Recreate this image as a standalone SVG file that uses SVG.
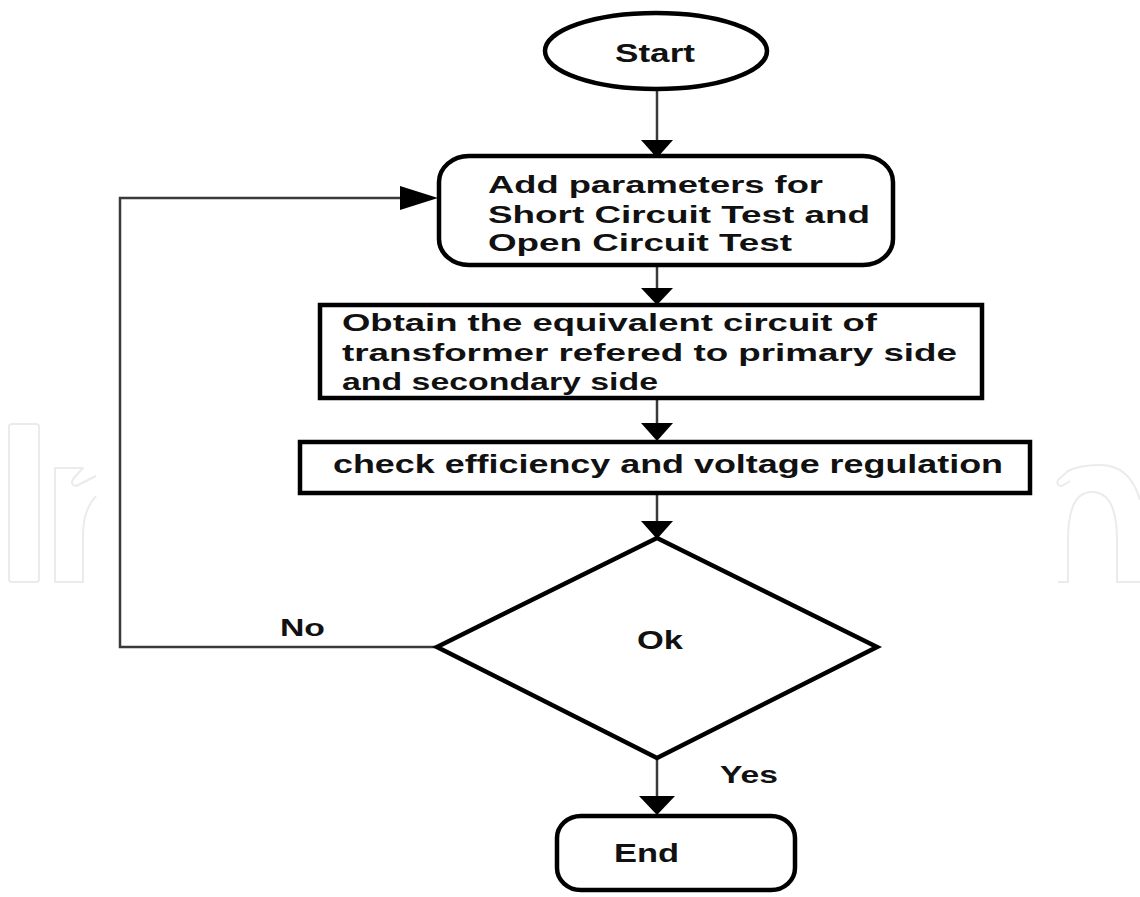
<svg xmlns="http://www.w3.org/2000/svg" width="1140" height="897" viewBox="0 0 1140 897">
<style>
.bg{fill:#ffffff}
.wm{fill:none;stroke:#ebebeb;stroke-width:2;stroke-linejoin:round}
.node{fill:#ffffff;stroke:#000000;stroke-width:4.5}
.conn{fill:none;stroke:#3a3a3a;stroke-width:2.5}
.head{fill:#000000}
.t{font-family:"Liberation Sans",Arial,sans-serif;font-weight:bold;fill:#111111}
</style>
<rect class="bg" x="0" y="0" width="1140" height="897"/>
<g id="watermark">
  <rect class="wm" x="9" y="424" width="30" height="158" rx="3"/>
  <path class="wm" d="M96,496 Q83,510 83,535 L83,582 L55,582 L55,468 L83,468 L73,479 Q70,485 76,486 L96,476"/>
  <path class="wm" d="M1140,500 Q1130,465 1100,465 Q1080,465 1068,471 L1058,480 Q1056,486 1062,486 L1070,481"/>
  <path class="wm" d="M1058,582 L1068,582 L1068,540 Q1068,492 1092,492 Q1117,492 1117,540 L1117,582 L1140,582"/>
</g>
<g id="connectors">
  <line class="conn" x1="657" y1="89" x2="657" y2="142"/>
  <polygon class="head" points="641,140 673,140 657,158"/>
  <line class="conn" x1="657" y1="265" x2="657" y2="290"/>
  <polygon class="head" points="641,288 673,288 657,305"/>
  <line class="conn" x1="657" y1="398" x2="657" y2="425"/>
  <polygon class="head" points="641,423 673,423 657,441"/>
  <line class="conn" x1="657" y1="493" x2="657" y2="523"/>
  <polygon class="head" points="641,521 673,521 657,539"/>
  <line class="conn" x1="657" y1="758" x2="657" y2="798"/>
  <polygon class="head" points="639,796 675,796 657,815"/>
  <polyline class="conn" points="437,647 120,647 120,198 402,198"/>
  <polygon class="head" points="400,186 438,198 400,210"/>
  <text class="t" x="280" y="636" font-size="24" textLength="45" lengthAdjust="spacingAndGlyphs">No</text>
  <text class="t" x="720" y="783" font-size="24" textLength="58" lengthAdjust="spacingAndGlyphs">Yes</text>
</g>
<g id="start">
  <ellipse class="node" cx="656" cy="51" rx="111" ry="38"/>
  <text class="t" x="615" y="62" font-size="26" textLength="80" lengthAdjust="spacingAndGlyphs">Start</text>
</g>
<g id="add-parameters">
  <rect class="node" x="439" y="156" width="454" height="109" rx="30" ry="26"/>
  <text class="t" x="488" y="193" font-size="23" textLength="335" lengthAdjust="spacingAndGlyphs">Add parameters for</text>
  <text class="t" x="488" y="223" font-size="23" textLength="382" lengthAdjust="spacingAndGlyphs">Short Circuit Test and</text>
  <text class="t" x="488" y="251" font-size="23" textLength="304" lengthAdjust="spacingAndGlyphs">Open Circuit Test</text>
</g>
<g id="equivalent-circuit">
  <rect class="node" x="320" y="305" width="662" height="93"/>
  <text class="t" x="342" y="331" font-size="24" textLength="535" lengthAdjust="spacingAndGlyphs">Obtain the equivalent circuit of</text>
  <text class="t" x="342" y="361" font-size="24" textLength="615" lengthAdjust="spacingAndGlyphs">transformer refered to primary side</text>
  <text class="t" x="342" y="390" font-size="24" textLength="316" lengthAdjust="spacingAndGlyphs">and secondary side</text>
</g>
<g id="check-efficiency">
  <rect class="node" x="300" y="442" width="730" height="51"/>
  <text class="t" x="333" y="473" font-size="25" textLength="670" lengthAdjust="spacingAndGlyphs">check efficiency and voltage regulation</text>
</g>
<g id="ok-decision">
  <polygon class="node" points="657,538 877,647 657,758 437,647"/>
  <text class="t" x="637" y="649" font-size="25" textLength="46" lengthAdjust="spacingAndGlyphs">Ok</text>
</g>
<g id="end">
  <rect class="node" x="557" y="816" width="238" height="74" rx="24" ry="22"/>
  <text class="t" x="614" y="862" font-size="25" textLength="65" lengthAdjust="spacingAndGlyphs">End</text>
</g>
</svg>
